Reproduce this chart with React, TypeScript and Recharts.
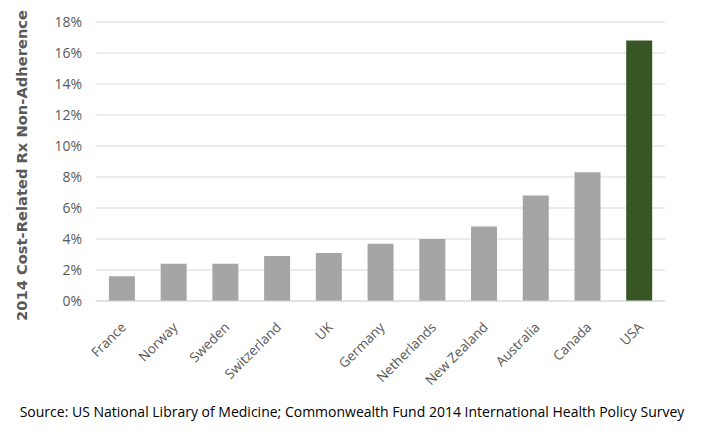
import React from 'react';
import { BarChart, Bar, XAxis, YAxis, CartesianGrid, Cell } from 'recharts';

const countries = ['France', 'Norway', 'Sweden', 'Switzerland', 'UK', 'Germany', 'Netherlands', 'New Zealand', 'Australia', 'Canada', 'USA'];
const nonAdherence = [1.6, 2.4, 2.4, 2.9, 3.1, 3.7, 4.0, 4.8, 6.8, 8.3, 16.8];
const yTicks = [0, 2, 4, 6, 8, 10, 12, 14, 16, 18];

const data = countries.map((c, i) => ({ country: c, value: nonAdherence[i] }));

const FONT = '"Open Sans", "Noto Sans", sans-serif';

const XTick = (props: any) => {
    const { x, y, payload } = props;
    return (
        <g transform={`translate(${x},${y})`}>
            <text x={-10} y={17} textAnchor="end" fill="#595959" fontSize={13.5} fontFamily={FONT} transform="rotate(-45)">
                {payload.value}
            </text>
        </g>
    );
};

// rotated axis title, centred on the plot area
const YTitle = (props: any) => {
    const { viewBox } = props;
    const cy = viewBox.y + viewBox.height / 2 + 4;
    return (
        <text
            x={27}
            y={cy}
            transform={`rotate(-90, 27, ${cy})`}
            textAnchor="middle"
            fill="#595959"
            fontSize={14.7}
            fontWeight="bold"
            fontFamily='"DejaVu Sans", sans-serif'
        >
            2014 Cost-Related Rx Non-Adherence
        </text>
    );
};

const App = () => {
    return (
        <div style={{ position: 'absolute', left: 0, top: 0, width: 704, height: 436, background: '#fff' }}>
            <BarChart width={704} height={436} data={data} margin={{ top: 22, right: 39, left: 0, bottom: 35 }} barCategoryGap="25%">
                <CartesianGrid vertical={false} stroke="#d9d9d9" />
                <XAxis dataKey="country" interval={0} tickLine={false} axisLine={{ stroke: '#d9d9d9' }} tick={<XTick />} height={100} />
                <YAxis
                    width={96}
                    domain={[0, 18]}
                    ticks={yTicks}
                    tickFormatter={(v) => `${v}%`}
                    tickLine={false}
                    axisLine={false}
                    tick={{ fill: '#595959', fontSize: 14, fontFamily: FONT }}
                    tickMargin={8}
                    label={<YTitle />}
                />
                <Bar dataKey="value" isAnimationActive={false}>
                    {data.map((d) => (
                        <Cell key={d.country} fill={d.country === 'USA' ? '#375623' : '#a5a5a5'} />
                    ))}
                </Bar>
            </BarChart>
            <div style={{ position: 'absolute', left: 0, width: 704, top: 402, textAlign: 'center', fontFamily: FONT, fontSize: 14, color: '#000' }}>
                Source: US National Library of Medicine; Commonwealth Fund 2014 International Health Policy Survey
            </div>
        </div>
    );
};

export default App;
